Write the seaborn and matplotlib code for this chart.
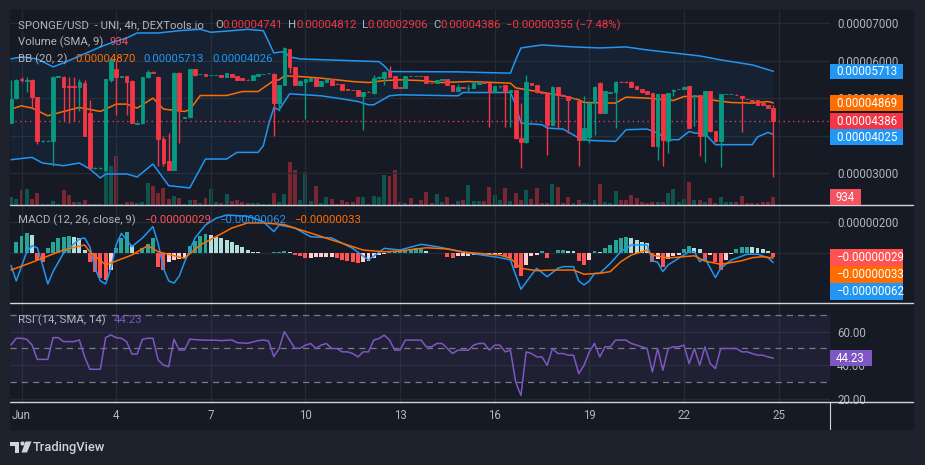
import numpy as np
import seaborn as sns
import matplotlib.pyplot as plt
from matplotlib.patches import Rectangle, Circle, Polygon

# ---------------- data (prices in units of 1e-8 USD) ----------------
UNIT = 1e-8

opens = [4331, 4996, 5500, 5460, 5484, 5023, 3850, 3855, 3843, 5565,
         5572, 5320, 5320, 5290, 5413, 4597, 3125, 3125, 3089, 5484,
         5768, 5565, 5590, 5466, 4320, 4331, 5555, 5700, 5572, 3905,
         3310, 3089, 5679, 4470, 4490, 5768, 5635, 5643, 5612, 5612,
         5617, 5555, 5643, 5590, 5528, 5490, 5484, 5590, 5638, 5655,
         5643, 4863, 5350, 6300, 5820, 5350, 5439, 5466, 5528, 5324,
         5439, 5501, 5385, 5377, 5235, 5220, 5217, 5058, 5170, 5129,
         5528, 5528, 5705, 5590, 5290, 5262, 5595, 5585, 5595, 5590,
         5400, 5395, 5484, 5501, 5350, 5200, 5290, 5260, 5262, 5377,
         5415, 5395, 5173, 5310, 5350, 5173, 5217, 3932, 3816, 5395,
         5351, 5173, 5129, 4286, 5289, 5093, 5058, 4995, 4907, 3887,
         3950, 4863, 5395, 4597, 5140, 5147, 5440, 5440, 5440, 5324,
         5236, 5174, 5129, 3727, 5111, 3843, 5174, 5232, 5236, 5324,
         5058, 5085, 3993, 5174, 4109, 3843, 5105, 5105, 5090, 5058,
         4975, 4940, 4934, 4880, 4818, 4741]
highs = [5484, 5500, 5555, 5555, 5500, 5040, 3870, 3870, 5590, 5590,
         5580, 5572, 5572, 5500, 5484, 4951, 3150, 3150, 5520, 6100,
         6016, 5600, 5600, 5484, 4340, 5560, 5750, 5720, 5600, 3976,
         4065, 5690, 5690, 4500, 5780, 5780, 5650, 5650, 5625, 5625,
         5625, 5670, 5650, 5600, 5535, 5495, 5625, 5650, 5650, 5665,
         5661, 5360, 6370, 6320, 5830, 5470, 5520, 5540, 5535, 5465,
         5546, 5505, 5390, 5380, 5240, 5225, 5220, 5170, 5175, 5617,
         5580, 5710, 5856, 5595, 5295, 5595, 5600, 5600, 5600, 5595,
         5405, 5490, 5505, 5505, 5355, 5377, 5295, 5350, 5439, 5425,
         5420, 5400, 5330, 5328, 5355, 5222, 5222, 4863, 5617, 5400,
         5360, 5180, 5135, 5324, 5295, 5100, 5065, 5005, 4915, 5058,
         4890, 5324, 5440, 5180, 5155, 5445, 5445, 5445, 5445, 5330,
         5240, 5180, 5135, 5120, 5118, 5135, 5230, 5242, 5312, 5330,
         5090, 5090, 5180, 5180, 4115, 5118, 5118, 5118, 5095, 5065,
         4980, 4945, 4940, 4885, 4825, 4812]
lows = [4331, 4970, 5440, 5147, 4730, 3772, 3840, 3845, 3178, 5555,
        4375, 4330, 4375, 4641, 3976, 3133, 3120, 3120, 3050, 5440,
        4552, 5550, 4552, 4331, 4310, 4320, 5540, 5660, 3195, 3195,
        3089, 3089, 3798, 4460, 4480, 5600, 5630, 5580, 5605, 5605,
        5565, 5550, 5550, 5480, 5480, 5478, 5480, 5585, 5635, 5650,
        3976, 4641, 5340, 5661, 5340, 5340, 4437, 5460, 5320, 5320,
        5435, 5345, 5370, 5210, 5220, 5205, 5050, 4135, 5155, 5120,
        5520, 5350, 5550, 5255, 5275, 5255, 5580, 5580, 5580, 5390,
        5388, 5390, 5480, 5338, 5195, 5195, 5275, 5173, 5258, 5372,
        5400, 4215, 5168, 5260, 4240, 4240, 3920, 3133, 3800, 5345,
        5140, 5125, 3488, 4280, 4198, 5050, 4065, 4990, 3195, 3880,
        3798, 4020, 4590, 4590, 5135, 4198, 5425, 5425, 5300, 5230,
        5140, 5105, 3720, 3337, 3178, 3532, 5058, 5228, 5230, 4190,
        4242, 3444, 3284, 4100, 3835, 3160, 5100, 5100, 5078, 4083,
        4962, 4925, 4812, 4812, 4725, 2906]
closes = [4969, 5484, 5470, 5490, 5023, 3843, 3862, 3865, 5572, 5578,
          5306, 5300, 5300, 5440, 3976, 3133, 3140, 3140, 5502, 6016,
          5572, 5580, 5440, 4331, 4335, 5555, 5705, 5680, 3905, 3266,
          3089, 5679, 4685, 4490, 5768, 5617, 5643, 5590, 5617, 5617,
          5572, 5661, 5555, 5484, 5484, 5482, 5617, 5643, 5645, 5661,
          4863, 5350, 6326, 5820, 5350, 5457, 5501, 5528, 5324, 5457,
          5501, 5350, 5375, 5217, 5225, 5210, 5058, 5164, 5160, 5528,
          5572, 5705, 5554, 5262, 5280, 5590, 5585, 5595, 5585, 5395,
          5392, 5484, 5501, 5342, 5200, 5288, 5280, 5270, 5395, 5421,
          5405, 5173, 5324, 5324, 5173, 5217, 3932, 3816, 5440, 5351,
          5147, 5129, 4286, 5289, 5085, 5058, 4951, 5000, 3887, 4198,
          4880, 5289, 4597, 5174, 5147, 5440, 5430, 5430, 5306, 5236,
          5147, 5111, 3727, 5111, 3870, 5129, 5218, 5236, 5306, 4198,
          5085, 3993, 5174, 4109, 3843, 5111, 5111, 5111, 5082, 4996,
          4968, 4932, 4818, 4818, 4730, 4386]
volumes = [971, 667, 1755, 1872, 667, 1369, 117, 117, 468, 117,
           1755, 1170, 386, 386, 585, 117, 117, 117, 5464, 4563,
           5733, 117, 386, 386, 199, 386, 2609, 2223, 1369, 1954,
           667, 1053, 854, 117, 585, 585, 269, 784, 1872, 386,
           269, 1287, 503, 585, 386, 269, 269, 199, 117, 117,
           1404, 386, 1287, 5031, 4095, 585, 3861, 468, 2223, 269,
           936, 702, 152, 585, 351, 351, 936, 936, 152, 1053,
           936, 3510, 3393, 4095, 351, 234, 819, 152, 585, 1521,
           234, 1287, 351, 936, 152, 468, 585, 2340, 468, 468,
           468, 2106, 1170, 585, 1989, 468, 1404, 585, 1755, 702,
           1989, 234, 234, 2457, 2106, 234, 936, 234, 585, 234,
           234, 585, 2457, 351, 234, 1638, 585, 585, 1170, 819,
           351, 234, 351, 351, 351, 1404, 1872, 351, 702, 2691,
           585, 585, 351, 819, 234, 936, 351, 351, 351, 1053,
           234, 234, 234, 351, 351, 936]
volume_sma = 934

# Bollinger bands (20, 2), read at the bar index where each line bends
bb_upper_idx = [0, 2, 5, 8, 10, 17, 19, 22, 24, 28, 32, 36, 38, 42, 45, 48, 49, 50, 52,
                53, 55, 70, 71, 72, 85, 95, 96, 97, 101, 107, 112, 117, 121, 131, 135,
                141, 145]
bb_upper = [6042, 6096, 6042, 5830, 5936, 6362, 6468, 6601, 6734, 6734, 6795, 6832, 6753,
            6795, 6832, 6795, 6503, 6202, 6237, 6096, 6042, 5970, 5856, 5705, 5697, 5662,
            6016, 6335, 6415, 6362, 6335, 6362, 6282, 6122, 6016, 5883, 5713]
bb_mid_idx = [0, 2, 4, 7, 10, 13, 17, 20, 22, 24, 27, 29, 33, 34, 36, 41, 44, 47, 50, 51,
              52, 55, 59, 62, 65, 68, 71, 74, 78, 82, 87, 92, 95, 96, 99, 102, 105, 108,
              109, 115, 117, 121, 126, 128, 131, 133, 137, 141, 144, 145]
bb_mid = [4704, 4792, 4731, 4526, 4641, 4747, 4641, 4837, 4837, 4731, 4997, 4704, 4641,
          4686, 5067, 5067, 5173, 5173, 5465, 5484, 5590, 5572, 5529, 5484, 5439, 5412,
          5465, 5484, 5465, 5412, 5439, 5412, 5396, 5270, 5199, 5130, 5058, 4952, 4880,
          4864, 5024, 4997, 4933, 5040, 5040, 4952, 4880, 4864, 4907, 4870]
bb_lower_idx = [0, 4, 6, 10, 13, 15, 17, 18, 22, 24, 27, 30, 34, 37, 41, 43, 47, 48, 49,
                50, 51, 53, 59, 62, 66, 68, 69, 72, 74, 85, 86, 95, 96, 97, 101, 102, 105,
                108, 110, 115, 117, 121, 123, 125, 127, 129, 130, 132, 134, 141, 142, 144,
                145]
bb_lower = [3355, 3417, 3266, 3195, 3266, 3107, 2867, 2974, 2974, 2894, 3240, 2663, 2601,
            3373, 3373, 3550, 3550, 3727, 4287, 4739, 4686, 5111, 5058, 4997, 4907, 4819,
            4819, 5058, 5085, 5058, 5146, 5146, 4819, 4332, 4287, 4199, 4172, 3933, 3869,
            3843, 4154, 4172, 4066, 3888, 3888, 4109, 4066, 4047, 3755, 3755, 3960, 4082,
            4026]

# MACD (12, 26, close, 9)
macd_hist = [-3, 69, 112, 127, 118, -45, -60, 34, 69, 99,
             105, 112, 105, 100, 20, -60, -120, -160, -175, -110,
             34, 95, 137, 52, -5, 34, 60, 94, -90, -110,
             -60, -45, -40, -30, 47, 77, 112, 120, 118, 105,
             95, 85, 69, 52, 41, 20, 9, 4, 2, 3,
             5, 8, 12, 6, -15, -22, -32, -30, -29, -28,
             -27, -26, -35, -42, -50, -58, -65, -60, -50, -30,
             -15, -5, 10, 15, 19, 20, 21, 34, 35, 13,
             1, -2, -1, -28, -30, -22, -20, -18, -16, -12,
             -22, -10, -8, -5, -28, -32, -97, -150, -77, -22,
             -10, 13, -32, 2, 19, 20, 15, 13, -52, -75,
             -43, 13, 9, 34, 52, 84, 95, 101, 95, 82,
             73, 62, -58, -37, -92, -37, -20, -10, 26, 47,
             30, 29, -43, -10, -58, -110, -43, -5, 26, 39,
             41, 39, 34, 26, 12, -29]
macd_idx = [0, 1, 3, 4, 5, 6, 7, 8, 10, 12, 13, 14, 15, 16, 17, 18, 19, 20, 21, 23, 25,
            27, 28, 29, 30, 31, 32, 33, 35, 37, 39, 41, 45, 48, 50, 51, 54, 57, 61, 65,
            68, 71, 74, 78, 81, 87, 90, 93, 95, 96, 97, 99, 100, 102, 104, 105, 107, 108,
            109, 110, 111, 112, 114, 116, 118, 121, 122, 123, 124, 125, 127, 129, 130,
            131, 132, 134, 135, 137, 140, 142, 144, 145]
macd_line = [-80, -180, 8, 47, 34, -77, -200, -120, 0, 60, 90, 97, 40, -100, -180, -200,
             -100, 52, 127, 41, 97, 170, 60, -100, -180, -194, -150, -60, 97, 181, 224,
             245, 237, 202, 138, 181, 161, 105, 97, 30, -45, 30, 19, 56, 41, 0, -15, -30,
             -45, -142, -234, -142, -99, -153, -99, -88, -88, -181, -206, -181, -131,
             -131, -67, 8, 52, 52, -50, -60, -120, -77, -34, 8, 8, -56, -34, -159, -99,
             -45, -8, -8, -30, -62]
signal_idx = [0, 4, 7, 10, 14, 15, 18, 23, 26, 28, 33, 36, 39, 42, 45, 48, 52, 55, 58,
              61, 64, 67, 71, 74, 79, 83, 86, 93, 95, 97, 100, 103, 107, 109, 112, 114,
              116, 118, 121, 122, 125, 130, 132, 135, 139, 141, 143, 145]
signal_line = [-110, -60, -20, 20, 52, 8, -77, -13, 47, 8, -34, 52, 105, 161, 194, 194,
               183, 150, 118, 84, 52, 19, 8, 13, 34, 26, 6, -13, -34, -99, -114, -110,
               -110, -137, -131, -120, -56, -13, 19, -13, -32, -18, -52, -73, -50, -30,
               -24, -33]

# RSI (14)
rsi = [52.1, 56.1, 56.1, 55.5, 52.1, 43.5, 43.5, 43.5, 56.5, 56.5,
       54.1, 54.1, 54.1, 55.1, 45.0, 37.6, 37.6, 37.6, 56.5, 58.1,
       56.5, 56.1, 54.1, 46.7, 46.7, 55.5, 56.1, 56.1, 43.1, 40.1,
       39.2, 55.5, 49.1, 49.1, 55.5, 55.3, 55.1, 55.0, 55.0, 54.9,
       54.7, 54.9, 55.1, 53.5, 53.3, 53.1, 53.9, 54.7, 55.1, 54.5,
       45.1, 50.0, 60.1, 55.0, 50.1, 50.1, 52, 53, 50, 52,
       53, 50, 50, 48, 48, 47, 45, 48, 48, 55,
       56, 58, 55, 49, 49, 55, 55, 55, 55, 51,
       51, 53, 53, 50, 47, 49, 49, 49, 52, 53,
       53, 49, 52, 52, 48, 49, 30, 22, 48, 47,
       45, 45, 40, 50, 47, 47, 46, 46, 35, 40,
       48, 53, 45, 51, 51, 55, 55, 55, 53, 52,
       51, 50, 36, 50, 37, 50, 51, 51, 52, 41,
       50, 40, 51, 41, 38, 50, 50, 50, 50, 48,
       48, 47, 46, 46, 45, 44.23]

day_numbers = [1, 4, 7, 10, 13, 16, 19, 22, 25]
day_labels = ["Jun", "4", "7", "10", "13", "16", "19", "22", "25"]
first_midnight_bar = 2      # first bar is 31 May 16:00
bars_per_day = 6            # 4h candles

# ---------------- style ----------------
W, H = 925, 465
OUTER = "#1e222d"
PANE = "#161a25"
GRID = "#262a35"
TEXT = "#b2b5be"
UP, DOWN = "#089981", "#f23645"
BLUE, ORANGE, PURPLE = "#2196f3", "#ff6d00", "#7e57c2"

sns.set_theme(style="dark")
plt.rcParams["font.family"] = ["Roboto", "DejaVu Sans"]
plt.rcParams["axes.unicode_minus"] = True

fig = plt.figure(figsize=(W / 100, H / 100), dpi=100, facecolor=OUTER)
fig.patches.append(Rectangle((10 / W, 1 - 429 / H), 903 / W, 419 / H,
                             transform=fig.transFigure, color=PANE, zorder=0))


def box(x0, y0, x1, y1):
    return [x0 / W, 1 - y1 / H, (x1 - x0) / W, (y1 - y0) / H]


BAR_PX = 5.257
X0_PX = 11.0
xlim = ((10 - X0_PX) / BAR_PX, (830 - X0_PX) / BAR_PX)

ax_v = fig.add_axes(box(10, 10, 830, 205), zorder=1)
ax_p = fig.add_axes(box(10, 10, 830, 205), zorder=2)
ax_m = fig.add_axes(box(10, 205, 830, 303), zorder=2)
ax_r = fig.add_axes(box(10, 303, 830, 402), zorder=2)

day_ticks = [first_midnight_bar + bars_per_day * (d - 1) for d in day_numbers]

for ax in (ax_v, ax_p, ax_m, ax_r):
    ax.patch.set_visible(False)
    for s in ax.spines.values():
        s.set_visible(False)
    ax.set_xlim(*xlim)
    ax.set_xticks(day_ticks)
    ax.tick_params(length=0, colors=TEXT, labelsize=8.3)
    ax.yaxis.tick_right()
for ax in (ax_p, ax_m, ax_r):
    ax.grid(True, color=GRID, lw=0.9)
    ax.set_axisbelow(True)
ax_v.set_xticklabels([])
ax_v.set_yticks([])
ax_p.set_xticklabels([])
ax_m.set_xticklabels([])
ax_r.set_xticklabels(day_labels)
ax_r.tick_params(axis="x", pad=5)
for ax in (ax_p, ax_m, ax_r):
    ax.tick_params(axis="y", pad=5, labelcolor=TEXT)

n = len(closes)
x = np.arange(n)
o = np.array(opens) * UNIT
h = np.array(highs) * UNIT
lo = np.array(lows) * UNIT
c = np.array(closes) * UNIT
up = c >= o
cols = np.where(up, UP, DOWN)

# ---- price pane ----
ax_p.set_ylim(2146.7 * UNIT, 7346.7 * UNIT)
price_ticks = [3000, 4000, 5000, 6000, 7000]
ax_p.set_yticks([t * UNIT for t in price_ticks])
ax_p.set_yticklabels([f"{t * UNIT:.8f}" for t in price_ticks])

ux = np.array(bb_upper_idx)
lx = np.array(bb_lower_idx)
ax_p.fill(np.r_[ux, lx[::-1]], np.r_[np.array(bb_upper), np.array(bb_lower)[::-1]] * UNIT,
          color=BLUE, alpha=0.06, lw=0, zorder=1)
sns.lineplot(x=bb_upper_idx, y=np.array(bb_upper) * UNIT, ax=ax_p, color=BLUE, lw=1.1, zorder=2)
sns.lineplot(x=bb_lower_idx, y=np.array(bb_lower) * UNIT, ax=ax_p, color=BLUE, lw=1.1, zorder=2)
sns.lineplot(x=bb_mid_idx, y=np.array(bb_mid) * UNIT, ax=ax_p, color=ORANGE, lw=1.1, zorder=2)
ax_p.set_xlabel("")
ax_p.set_ylabel("")

ax_p.vlines(x, lo, h, colors=cols, lw=1.0, zorder=3)
ax_p.bar(x, np.abs(c - o), bottom=np.minimum(o, c), width=0.7, color=cols,
         edgecolor=cols, linewidth=0.6, zorder=4)
ax_p.axhline(c[-1], color=DOWN, lw=1.0, ls=(0, (1, 2.5)), zorder=3)
ax_p.set_xlim(*xlim)

# volume overlay
ax_v.set_ylim(0, 195 * 117)
ax_v.bar(x, volumes, width=0.75, color=np.where(up, UP, DOWN), alpha=0.45, lw=0)

# ---- MACD pane ----
ax_m.set_ylim(-322.6 * UNIT, 309.7 * UNIT)
ax_m.set_yticks([200 * UNIT, 0])
ax_m.set_yticklabels(["0.00000200", "0.00000000"])
hist_cols = []
prev = 0
for v in macd_hist:
    if v >= 0:
        hist_cols.append("#26a69a" if v > prev else "#b2dfdb")
    else:
        hist_cols.append("#ff5252" if v < prev else "#ffcdd2")
    prev = v
ax_m.bar(x, np.array(macd_hist) * UNIT, width=0.75, color=hist_cols, lw=0, zorder=2)
sns.lineplot(x=macd_idx, y=np.array(macd_line) * UNIT, ax=ax_m, color=BLUE, lw=1.1, zorder=3)
sns.lineplot(x=signal_idx, y=np.array(signal_line) * UNIT, ax=ax_m, color=ORANGE, lw=1.1, zorder=3)
ax_m.set_xlabel("")
ax_m.set_ylabel("")
ax_m.set_xlim(*xlim)

# ---- RSI pane ----
ax_r.set_ylim(18.06, 77.16)
ax_r.set_yticks([20, 40, 60])
ax_r.set_yticklabels(["20.00", "40.00", "60.00"])
ax_r.axhspan(30, 70, color=PURPLE, alpha=0.1, lw=0, zorder=1)
for lvl in (70, 50, 30):
    ax_r.axhline(lvl, color="#787b86", lw=0.9, ls=(0, (5, 4)), zorder=2)
sns.lineplot(x=x, y=rsi, ax=ax_r, color=PURPLE, lw=1.1, zorder=3)
ax_r.set_xlabel("")
ax_r.set_ylabel("")
ax_r.set_xlim(*xlim)

# ---------------- overlay: legends, price tags, separators, footer ----------------
ov = fig.add_axes([0, 0, 1, 1], zorder=10)
ov.set_xlim(0, W)
ov.set_ylim(H, 0)
ov.axis("off")
ov.patch.set_visible(False)

for yy in (205, 303, 402):
    ov.plot([10, 913], [yy, yy], color="#d1d4dc", lw=1.0)
ov.plot([830, 830], [402, 429], color="#d1d4dc", lw=0.8)

renderer = fig.canvas.get_renderer()


def runs(x0, y, parts, size=8.2):
    xx = x0
    for s, col, gap in parts:
        t = ov.text(xx, y, s, color=col, fontsize=size, va="center", ha="left")
        xx += t.get_window_extent(renderer).width + gap
    return xx


RED_T = "#f23645"
runs(18, 25, [("SPONGE/USD  - UNI, 4h, DEXTools.io", TEXT, 11),
              ("O", TEXT, 0), ("0.00004741", RED_T, 5),
              ("H", TEXT, 0), ("0.00004812", RED_T, 5),
              ("L", TEXT, 0), ("0.00002906", RED_T, 5),
              ("C", TEXT, 0), ("0.00004386", RED_T, 5),
              ("\u22120.00000355 (\u22127.48%)", RED_T, 0)])
runs(18, 42, [("Volume (SMA, 9)", TEXT, 6), (str(volume_sma), "#f7525f", 0)])
runs(18, 59, [("BB (20, 2)", TEXT, 8), ("0.00004870", ORANGE, 8),
              ("0.00005713", BLUE, 8), ("0.00004026", BLUE, 0)])
runs(18, 220, [("MACD (12, 26, close, 9)", TEXT, 8), ("\u22120.00000029", "#ff5252", 8),
               ("\u22120.00000062", BLUE, 8), ("\u22120.00000033", ORANGE, 0)])
runs(18, 320, [("RSI (14, SMA, 14)", TEXT, 8), ("44.23", PURPLE, 0)])


def to_px(ax, v):
    return H - ax.transData.transform((0, v))[1]


def tags(items, step, height=15.5):
    items = sorted(items, key=lambda t: t[0])
    last = -1e9
    for y, label, col, wid in items:
        y = max(y, last + step)
        last = y
        ov.add_patch(Rectangle((830, y - height / 2), wid, height, color=col, lw=0, zorder=5))
        ov.text(836, y + 0.5, label, color="white", fontsize=8.3, va="center", ha="left", zorder=6)


tags([(to_px(ax_p, 5713 * UNIT), "0.00005713", BLUE, 73),
      (to_px(ax_p, 4869 * UNIT), "0.00004869", ORANGE, 73),
      (to_px(ax_p, 4386 * UNIT), "0.00004386", DOWN, 73),
      (to_px(ax_p, 4025 * UNIT), "0.00004025", BLUE, 73)], step=16)
tags([(to_px(ax_v, volume_sma), str(volume_sma), "#f7525f", 31)], step=16)
tags([(to_px(ax_m, -29 * UNIT), "\u22120.00000029", "#ff5252", 73),
      (to_px(ax_m, -33 * UNIT), "\u22120.00000033", ORANGE, 73),
      (to_px(ax_m, -62 * UNIT), "\u22120.00000062", BLUE, 73)], step=17, height=16.5)
tags([(to_px(ax_r, rsi[-1]), f"{rsi[-1]:.2f}", PURPLE, 42)], step=16)

# footer logo + wordmark
ov.add_patch(Rectangle((10, 441.5), 9, 4, color="#d1d4dc", lw=0))
ov.add_patch(Rectangle((14.5, 441.5), 4.5, 11, color="#d1d4dc", lw=0))
ov.add_patch(Circle((22.5, 443.5), 2.1, color="#d1d4dc", lw=0))
ov.add_patch(Polygon([(25.5, 441.5), (31.5, 441.5), (27, 452.5), (21.5, 452.5)],
                     closed=True, color="#d1d4dc", lw=0))
ov.text(33, 447, "TradingView", color="#d1d4dc", fontsize=9.3, va="center", ha="left",
        fontweight="medium")

fig.savefig("out.png", dpi=100, facecolor=OUTER)
